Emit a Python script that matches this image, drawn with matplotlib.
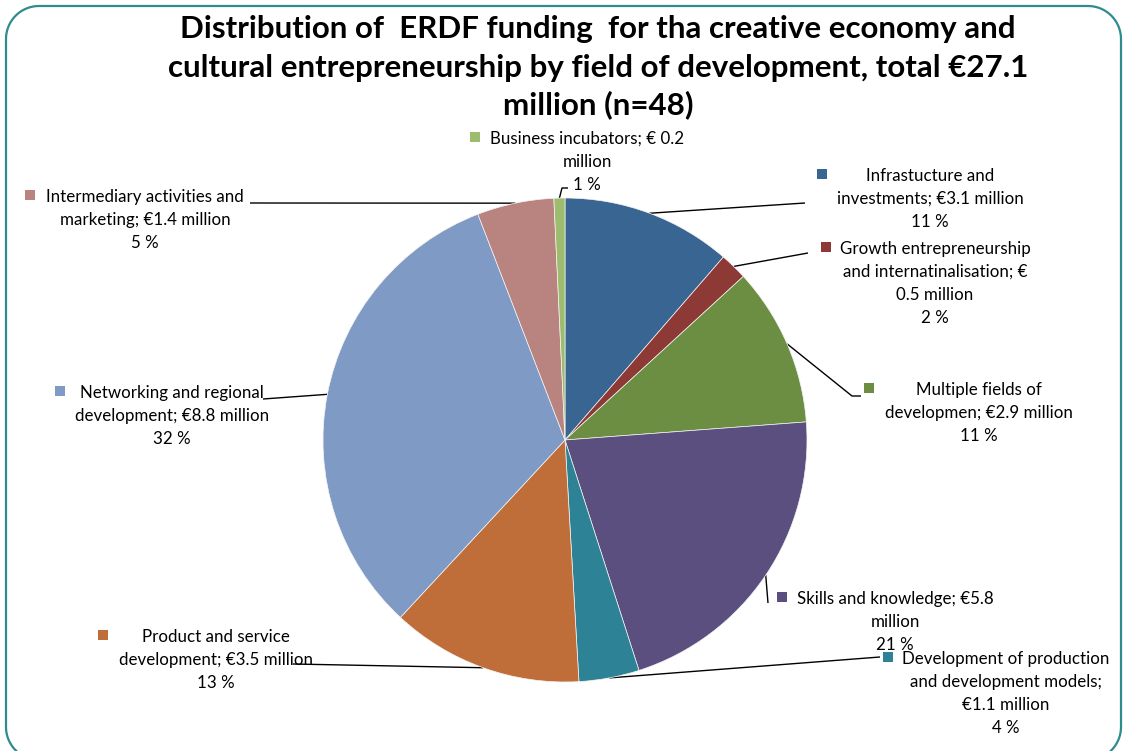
import matplotlib
matplotlib.use("Agg")
import matplotlib.pyplot as plt
from matplotlib.patches import Rectangle, PathPatch
from matplotlib.path import Path
import numpy as np

plt.rcParams['font.family'] = ['Lato', 'DejaVu Sans']

# Funding by field of development (€ million)
categories = [
    "Infrastucture and investments",
    "Growth entrepreneurship and internatinalisation",
    "Multiple fields of developmen",
    "Skills and knowledge",
    "Development of production and development models",
    "Product and service development",
    "Networking and regional development",
    "Intermediary activities and marketing",
    "Business incubators",
]
values = [3.1, 0.5, 2.9, 5.8, 1.1, 3.5, 8.8, 1.4, 0.2]
colors = ["#386592", "#8D3936", "#6B8E42", "#5A4F7E", "#2D8395",
          "#C06E39", "#7F9AC4", "#B98480", "#9DBC6E"]

# Label text, with value and percent filled in
label_templates = [
    "Infrastucture and\ninvestments; €{v} million\n{p} %",
    "Growth entrepreneurship\nand internatinalisation; €\n{v} million\n{p} %",
    "Multiple fields of\ndevelopmen; €{v} million\n{p} %",
    "Skills and knowledge; €{v}\nmillion\n{p} %",
    "Development of production\nand development models;\n€{v} million\n{p} %",
    "Product and service\ndevelopment; €{v} million\n{p} %",
    "Networking and regional\ndevelopment; €{v} million\n{p} %",
    "Intermediary activities and\nmarketing; €{v} million\n{p} %",
    "Business incubators; € {v}\nmillion\n{p} %",
]

title_lines = [
    "Distribution of  ERDF funding  for tha creative economy and",
    "cultural entrepreneurship by field of development, total €27.1",
    "million (n=48)",
]

W, H = 1125, 751
fig = plt.figure(figsize=(W / 100, H / 100), dpi=100)

# overlay axes in pixel coordinates (y downward)
ov = fig.add_axes([0, 0, 1, 1])
ov.set_xlim(0, W)
ov.set_ylim(H, 0)
ov.axis("off")

# rounded frame (bottom edge lies just below the canvas)
def rounded_frame(x0, y0, x1, y1, rad, n=20):
    verts = []
    corners = [((x0 + rad, y0 + rad), np.pi, 1.5 * np.pi),
               ((x1 - rad, y0 + rad), 1.5 * np.pi, 2 * np.pi),
               ((x1 - rad, y1 - rad), 0, 0.5 * np.pi),
               ((x0 + rad, y1 - rad), 0.5 * np.pi, np.pi)]
    for (ccx, ccy), a0, a1 in corners:
        for a in np.linspace(a0, a1, n):
            verts.append((ccx + rad * np.cos(a), ccy + rad * np.sin(a)))
    verts.append(verts[0])
    return Path(verts)

ov.add_patch(PathPatch(rounded_frame(6, 6, 1121, 760, 33), fill=False,
                       edgecolor="#2E8B8F", linewidth=1.6, clip_on=False))

# pie geometry in pixels
cx, cy, r = 565, 440, 242
pie_ax = fig.add_axes([(cx - r) / W, (H - cy - r) / H, 2 * r / W, 2 * r / H])
pie_ax.pie(values, colors=colors, startangle=90, counterclock=False, radius=1,
           wedgeprops=dict(linewidth=0.5, edgecolor="#f4f4f4"))
pie_ax.set_xlim(-1, 1)
pie_ax.set_ylim(-1, 1)
pie_ax.axis("off")

for k, (ln, yy) in enumerate(zip(title_lines, [29, 68, 105])):
    ov.text(598, yy, ln, ha="center", va="center", fontsize=22.5,
            fontweight="bold", color="black")

total = sum(values)

# label placement: (text centre x, first line y, marker x, leader path after arc point)
placements = [
    (930, 175, 822, [(805, 203)]),
    (935, 248, 826, [(808, 253)]),
    (979, 389, 869, [(852, 396), (861, 396)]),
    (895, 598, 782, [(768, 603)]),
    (1006, 658, 888, [(880, 657)]),
    (216, 636, 103, [(293, 664)]),
    (172, 392, 60, [(263, 399)]),
    (145, 196, 30, [(250, 203)]),
    (587, 138, 475, [(562, 188), (568, 188)]),
]

line_h = 23
cum = 0.0
for i, (v, tpl, col) in enumerate(zip(values, label_templates, colors)):
    mid = (cum + v / 2) / total * 2 * np.pi
    cum += v
    ax_pt = (cx + r * np.sin(mid), cy - r * np.cos(mid))
    tx, ty, mx, path = placements[i]
    pts = [ax_pt] + path
    ov.plot([p[0] for p in pts], [p[1] for p in pts], color="black",
            linewidth=1.0, solid_capstyle="butt")
    pct = int(round(v / total * 100))
    lines = tpl.format(v=v, p=pct).split("\n")
    for k, ln in enumerate(lines):
        ov.text(tx, ty + 1 + k * line_h, ln, ha="center", va="center",
                fontsize=12.2, color="black")
    ov.add_patch(Rectangle((mx - 5, ty - 6), 10, 10, facecolor=col,
                           edgecolor="none"))

fig.savefig("out.png", dpi=100)
